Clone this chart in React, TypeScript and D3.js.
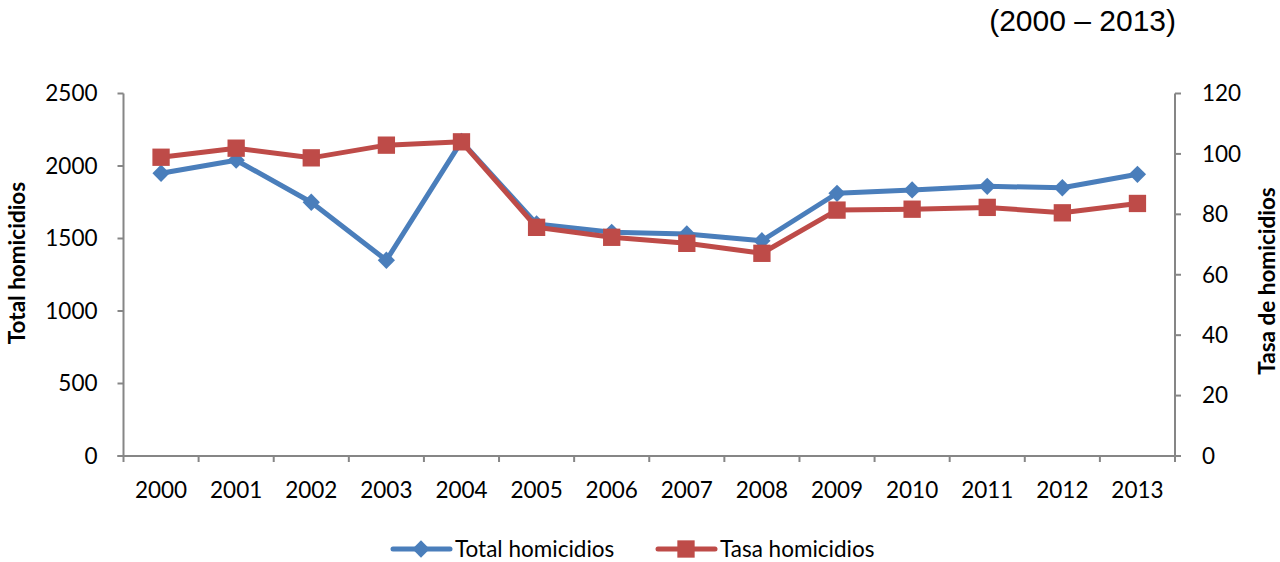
import React from 'react';
import * as d3 from "d3";

const years = ["2000", "2001", "2002", "2003", "2004", "2005", "2006", "2007", "2008", "2009", "2010", "2011", "2012", "2013"];
const totalHomicidios = [1950, 2040, 1750, 1350, 2170, 1600, 1543, 1531, 1485, 1812, 1835, 1860, 1850, 1943];
const tasaHomicidios = [98.9, 101.9, 98.7, 102.9, 104.0, 75.7, 72.4, 70.4, 67.1, 81.4, 81.7, 82.3, 80.5, 83.6];
const leftTicks = [0, 500, 1000, 1500, 2000, 2500];
const rightTicks = [0, 20, 40, 60, 80, 100, 120];

const BLUE = "#4A7EBB";
const RED = "#BE4B48";
const AXIS = "#868686";
const FONT = "Lato, 'Open Sans', sans-serif";

const App = () => {
    const width = 1280;
    const height = 562;
    const plot = {left: 123.5, right: 1175, top: 93.5, bottom: 456};

    const xBand = d3.scaleBand<string>()
        .domain(years)
        .range([plot.left, plot.right])
        .padding(0);
    const xMid = (y: string) => (xBand(y) ?? 0) + xBand.bandwidth() / 2;

    const yLeft = d3.scaleLinear().domain([0, 2500]).range([plot.bottom, plot.top]);
    const yRight = d3.scaleLinear().domain([0, 120]).range([plot.bottom, plot.top]);

    const totalLine = d3.line<number>()
        .x((d, i) => xMid(years[i]))
        .y(d => yLeft(d));
    const tasaLine = d3.line<number>()
        .x((d, i) => xMid(years[i]))
        .y(d => yRight(d));

    const diamond = d3.symbol().type(d3.symbolDiamond2).size(190)();
    const square = d3.symbol().type(d3.symbolSquare).size(300)();

    const boundaries = [...years.map(y => xBand(y) ?? 0), plot.right];

    return (
        <div style={{position: "absolute", top: 0, left: 0}}>
            <svg width={width} height={height} style={{display: "block", background: "white"}}>
                <text x={1176} y={31} textAnchor="end" fontFamily="Arial, 'Liberation Sans', sans-serif" fontSize={30} fill="#000">
                    (2000 – 2013)
                </text>

                {/* left axis */}
                <line x1={plot.left} x2={plot.left} y1={plot.top} y2={plot.bottom} stroke={AXIS} strokeWidth={2}/>
                {leftTicks.map(t => (
                    <g key={"l" + t}>
                        <line x1={plot.left - 6} x2={plot.left} y1={yLeft(t)} y2={yLeft(t)} stroke={AXIS} strokeWidth={2}/>
                        <text x={plot.left - 26} y={yLeft(t)} dy="0.35em" textAnchor="end" fontFamily={FONT} fontSize={22.5} fill="#000">{t}</text>
                    </g>
                ))}

                {/* right axis */}
                <line x1={plot.right} x2={plot.right} y1={plot.top} y2={plot.bottom} stroke={AXIS} strokeWidth={2}/>
                {rightTicks.map(t => (
                    <g key={"r" + t}>
                        <line x1={plot.right} x2={plot.right + 6} y1={yRight(t)} y2={yRight(t)} stroke={AXIS} strokeWidth={2}/>
                        <text x={plot.right + 27} y={yRight(t)} dy="0.35em" textAnchor="start" fontFamily={FONT} fontSize={22.5} fill="#000">{t}</text>
                    </g>
                ))}

                {/* bottom axis */}
                <line x1={plot.left - 6} x2={plot.right + 6} y1={plot.bottom} y2={plot.bottom} stroke={AXIS} strokeWidth={2}/>
                {boundaries.map((b, i) => (
                    <line key={"b" + i} x1={b} x2={b} y1={plot.bottom} y2={plot.bottom + 6} stroke={AXIS} strokeWidth={2}/>
                ))}
                {years.map(y => (
                    <text key={"x" + y} x={xMid(y)} y={plot.bottom + 42} textAnchor="middle" fontFamily={FONT} fontSize={22.5} fill="#000">{y}</text>
                ))}

                {/* axis titles */}
                <text transform={`translate(25,263) rotate(-90)`} textAnchor="middle"
                      fontFamily={FONT} fontSize={22.5} fontWeight="bold" fill="#000">Total homicidios</text>
                <text transform={`translate(1275,281) rotate(-90)`} textAnchor="middle"
                      fontFamily={FONT} fontSize={22.5} fontWeight="bold" fill="#000">Tasa de homicidios</text>

                {/* series */}
                <path d={totalLine(totalHomicidios) ?? ""} fill="none" stroke={BLUE} strokeWidth={5} strokeLinejoin="round"/>
                {totalHomicidios.map((d, i) => (
                    <path key={"d" + i} d={diamond ?? ""} transform={`translate(${xMid(years[i])},${yLeft(d)})`} fill={BLUE}/>
                ))}
                <path d={tasaLine(tasaHomicidios) ?? ""} fill="none" stroke={RED} strokeWidth={5} strokeLinejoin="round"/>
                {tasaHomicidios.map((d, i) => (
                    <path key={"s" + i} d={square ?? ""} transform={`translate(${xMid(years[i])},${yRight(d)})`} fill={RED}/>
                ))}

                {/* legend */}
                <g transform="translate(393,549)">
                    <line x1={0} x2={57} y1={0} y2={0} stroke={BLUE} strokeWidth={5} strokeLinecap="round"/>
                    <path d={diamond ?? ""} transform="translate(28,0)" fill={BLUE}/>
                    <text x={62} y={0} dy="0.35em" fontFamily={FONT} fontSize={22.5} fill="#000">Total homicidios</text>
                </g>
                <g transform="translate(658,549)">
                    <line x1={0} x2={57} y1={0} y2={0} stroke={RED} strokeWidth={5} strokeLinecap="round"/>
                    <path d={square ?? ""} transform="translate(28,0)" fill={RED}/>
                    <text x={62} y={0} dy="0.35em" fontFamily={FONT} fontSize={22.5} fill="#000">Tasa homicidios</text>
                </g>
            </svg>
        </div>
    );
};

export default App;
